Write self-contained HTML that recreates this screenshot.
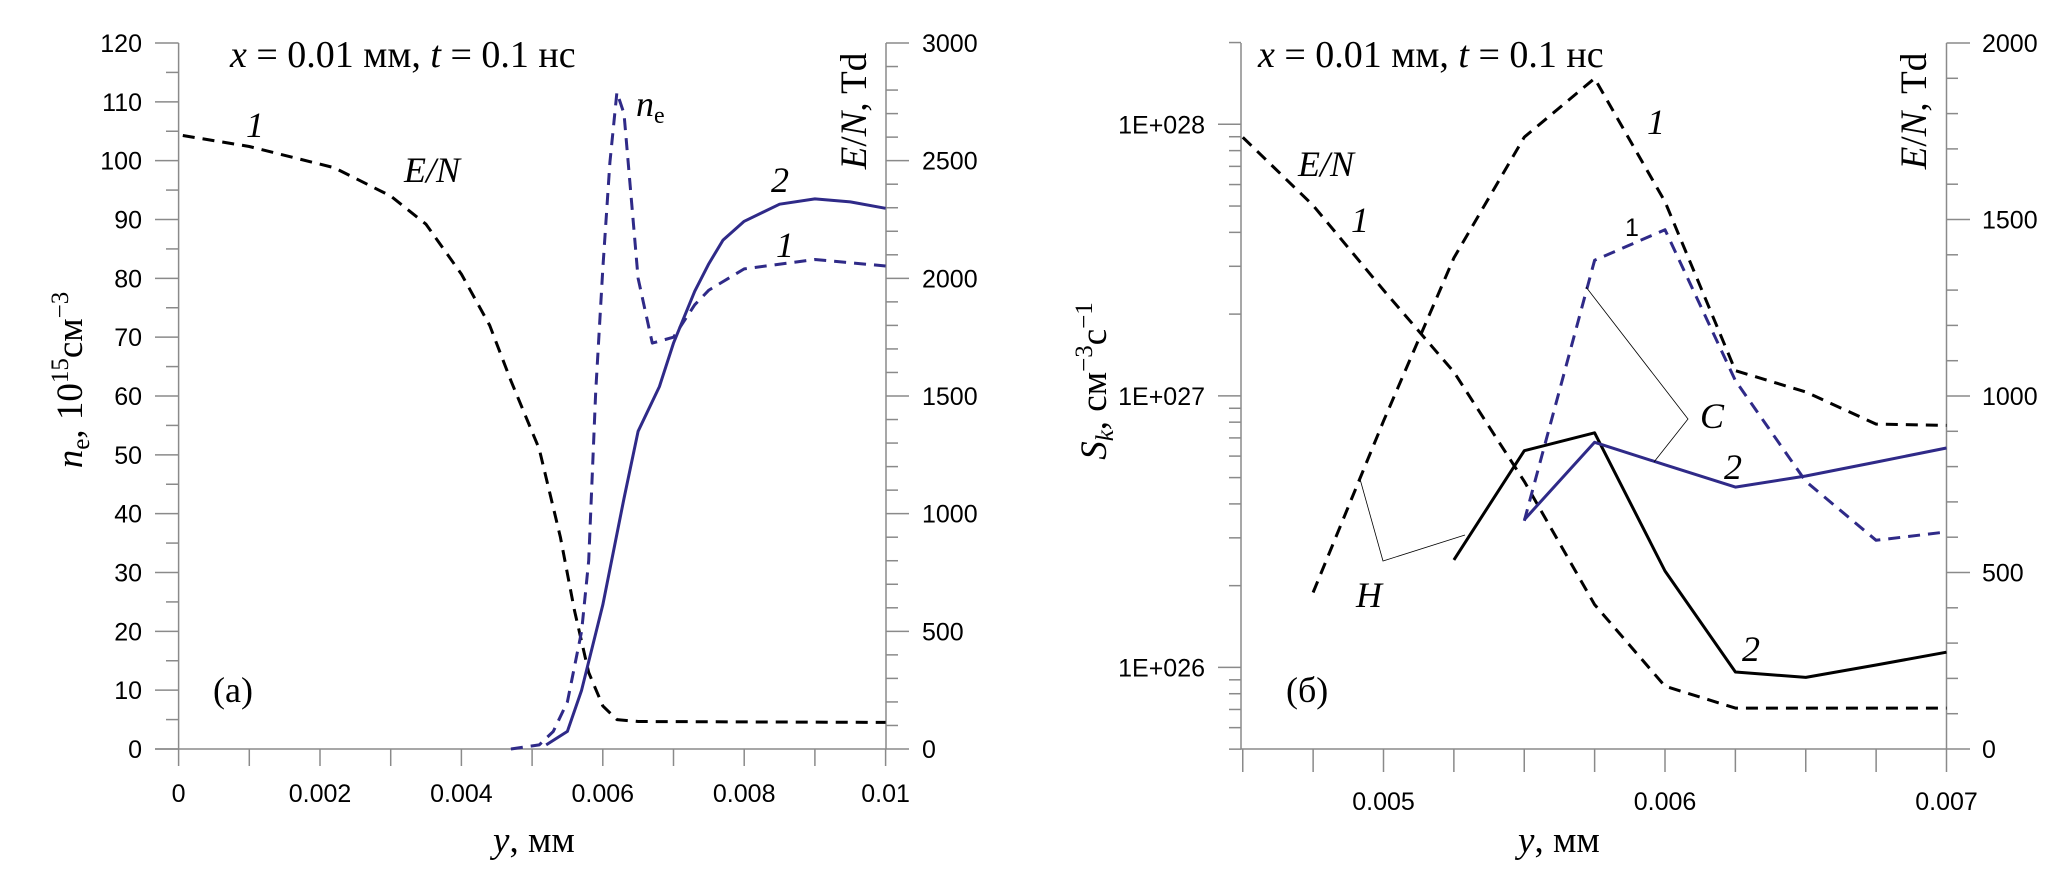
<!DOCTYPE html>
<html><head><meta charset="utf-8">
<style>
html,body{margin:0;padding:0;background:#fff;}
svg{display:block;}
.tick{font-family:"Liberation Sans",sans-serif;font-size:25px;fill:#000;}
.ser{font-family:"Liberation Serif","DejaVu Serif",serif;fill:#000;}
</style></head>
<body>
<svg id="chart" width="2067" height="878" viewBox="0 0 2067 878" xmlns="http://www.w3.org/2000/svg">
<g id="gA"></g>
<g id="gB"></g>
<!-- panel a text -->
<text class="ser" x="230" y="67" font-size="38"><tspan font-style="italic">x</tspan> = 0.01 мм, <tspan font-style="italic">t</tspan> = 0.1 нс</text>
<text class="ser" x="493" y="852" font-size="37"><tspan font-style="italic">y</tspan>, мм</text>
<text class="ser" transform="translate(82,380) rotate(-90)" text-anchor="middle" font-size="37"><tspan font-style="italic">n</tspan><tspan font-size="25" dy="7">e</tspan><tspan dy="-7">, 10</tspan><tspan font-size="25" dy="-14">15</tspan><tspan dy="14">см</tspan><tspan font-size="25" dy="-14">−3</tspan></text>
<text class="ser" transform="translate(866,111) rotate(-90)" text-anchor="middle" font-size="37"><tspan font-style="italic">E</tspan>/<tspan font-style="italic">N</tspan>, Td</text>
<text class="ser" x="213" y="702" font-size="36">(a)</text>
<text class="ser" x="246" y="137" font-size="36" font-style="italic">1</text>
<text class="ser" x="404" y="182" font-size="36" font-style="italic">E/N</text>
<text class="ser" x="636" y="116" font-size="36"><tspan font-style="italic">n</tspan><tspan font-size="24" dy="7">e</tspan></text>
<text class="ser" x="771" y="192" font-size="36" font-style="italic">2</text>
<text class="ser" x="776" y="257" font-size="36" font-style="italic">1</text>
<!-- panel b text -->
<text class="ser" x="1258" y="67" font-size="38"><tspan font-style="italic">x</tspan> = 0.01 мм, <tspan font-style="italic">t</tspan> = 0.1 нс</text>
<text class="ser" x="1518" y="852" font-size="37"><tspan font-style="italic">y</tspan>, мм</text>
<text class="ser" transform="translate(1106,381) rotate(-90)" text-anchor="middle" font-size="37"><tspan font-style="italic">S</tspan><tspan font-size="25" dy="7" font-style="italic">k</tspan><tspan dy="-7">, см</tspan><tspan font-size="25" dy="-14">−3</tspan><tspan dy="14">с</tspan><tspan font-size="25" dy="-14">−1</tspan></text>
<text class="ser" transform="translate(1926,111) rotate(-90)" text-anchor="middle" font-size="37"><tspan font-style="italic">E</tspan>/<tspan font-style="italic">N</tspan>, Td</text>
<text class="ser" x="1286" y="702" font-size="36">(б)</text>
<text class="ser" x="1298" y="176" font-size="36" font-style="italic">E/N</text>
<text class="ser" x="1351" y="232" font-size="36" font-style="italic">1</text>
<text class="ser" x="1647" y="134" font-size="36" font-style="italic">1</text>
<text class="tick" x="1625" y="236" font-size="26">1</text>
<text class="ser" x="1356" y="607" font-size="36" font-style="italic">H</text>
<text class="ser" x="1700" y="428" font-size="36" font-style="italic">C</text>
<text class="ser" x="1724" y="479" font-size="36" font-style="italic">2</text>
<text class="ser" x="1742" y="661" font-size="36" font-style="italic">2</text>
<polyline points="1360,479 1383,561 1465,535" fill="none" stroke="#000" stroke-width="0.8"/>
<polyline points="1586,287 1688,419 1654,462" fill="none" stroke="#000" stroke-width="0.8"/>
</svg>
<script>
// Panel a data
const aEnX = [0.00006,0.001,0.0022,0.003,0.0035,0.004,0.0044,0.0047,0.0051,0.0054,0.0056,0.0058,0.006,0.0062,0.0065,0.008,0.01];
const aEnTd = [2607,2560,2470,2350,2230,2018,1800,1565,1275,900,588,325,183,125,117,115,113];
const aNe1X = [0.0047,0.0051,0.0053,0.0055,0.0057,0.0058,0.0059,0.006,0.0061,0.0062,0.0063,0.0065,0.0067,0.007,0.0073,0.0075,0.008,0.009,0.01];
const aNe1V = [0,0.7,3,8,20,32,60.7,81.6,99.7,111.6,108,80,69,70,75.5,78,81.6,83.2,82.1];
const aNe2X = [0.0052,0.0055,0.0057,0.006,0.0063,0.0065,0.0068,0.007,0.0073,0.0075,0.0077,0.008,0.0085,0.009,0.0095,0.01];
const aNe2V = [0.7,3,10,24.5,42.6,54,61.6,69,77.8,82.5,86.5,89.7,92.6,93.5,93,91.9];
const aLeftTicks = [0,10,20,30,40,50,60,70,80,90,100,110,120];
const aRightTicks = [0,500,1000,1500,2000,2500,3000];
const aXTicks = [0,0.002,0.004,0.006,0.008,0.01];
const aXLabels = ["0","0.002","0.004","0.006","0.008","0.01"];
// Panel b data (log10 of S_k)
const bEnX = [0.0045,0.00475,0.005,0.00525,0.0055,0.00575,0.006,0.00625,0.0065,0.00675,0.007];
const bEnTd = [1733,1540,1300,1068,758,409,178,116,116,116,116];
const bC1X = [0.00475,0.005,0.00525,0.0055,0.00575,0.006,0.00625,0.0065,0.00675,0.007];
const bC1Log = [26.276,26.907,27.508,27.953,28.169,27.715,27.093,27.014,26.896,26.891];
const bH1X = [0.0055,0.00575,0.006,0.00625,0.0065,0.00675,0.007];
const bH1Log = [26.540,27.499,27.612,27.056,26.685,26.468,26.499];
const bC2X = [0.00525,0.0055,0.00575,0.006,0.00625,0.0065,0.00675,0.007];
const bC2Log = [26.396,26.798,26.864,26.355,25.983,25.963,26.009,26.056];
const bH2X = [0.0055,0.00575,0.006,0.00625,0.0065,0.00675,0.007];
const bH2Log = [26.544,26.829,26.746,26.664,26.705,26.756,26.808];
const bLogTicks = [26,27,28];
const bLogLabels = ["1E+026","1E+027","1E+028"];
const bRightTicks = [0,500,1000,1500,2000];
const bXTicks = [0.005,0.006,0.007];
const bXLabels = ["0.005","0.006","0.007"];

const NS = "http://www.w3.org/2000/svg";
function mk(parent, tag, attrs) {
  const e = document.createElementNS(NS, tag);
  for (const k in attrs) e.setAttribute(k, attrs[k]);
  parent.appendChild(e);
  return e;
}
function line(parent, x1, y1, x2, y2, name, w, c) {
  const e = mk(parent, "line", {x1: x1, y1: y1, x2: x2, y2: y2, stroke: c || "#8a8a8a", "stroke-width": w || 1.5});
  
  
  return e;
}
function label(parent, x, y, txt, anchor, name) {
  const t = mk(parent, "text", {x: x, y: y, "text-anchor": anchor, class: "tick"});
  t.textContent = txt;
  
  
  return t;
}
function series(parent, xs, ys, fx, fy, color, dashed, name, w) {
  const pts = xs.map((x, i) => fx(x).toFixed(1) + "," + fy(ys[i]).toFixed(1)).join(" ");
  const p = mk(parent, "polyline", {points: pts, fill: "none", stroke: color, "stroke-width": w || 3, "stroke-linejoin": "round"});
  if (dashed) p.setAttribute("stroke-dasharray", "12 8");
  
  
}
const BLUE = "#2f2a88";

// ----- Panel a -----
const gA = document.getElementById("gA");
const aX = x => 178.6 + x / 0.01 * 707;
const aYL = v => 749 - v * 706 / 120;
const aYR = v => 749 - v * 706 / 3000;
line(gA, 178.6, 43, 178.6, 749, "panel-a-left-axis");
line(gA, 886, 43, 886, 749, "panel-a-right-axis");
line(gA, 155, 749, 886, 749, "panel-a-x-axis");
for (let v = 0; v <= 120; v += 5) {
  const major = v % 10 === 0;
  line(gA, major ? 155 : 166, aYL(v), 178.6, aYL(v), "panel-a-left-tick");
}
aLeftTicks.forEach(v => label(gA, 142, aYL(v) + 9, String(v), "end", "panel-a-left-tick-label"));
for (let v = 0; v <= 3000; v += 100) {
  const major = v % 500 === 0;
  line(gA, 886, aYR(v), major ? 909 : 898, aYR(v), "panel-a-right-tick");
}
aRightTicks.forEach(v => label(gA, 922, aYR(v) + 9, String(v), "start", "panel-a-right-tick-label"));
for (let i = 0; i <= 10; i++) {
  const x = i * 0.001;
  line(gA, aX(x), 749, aX(x), 766, "panel-a-x-tick");
}
aXTicks.forEach((x, i) => label(gA, aX(x), 802, aXLabels[i], "middle", "panel-a-x-tick-label"));
series(gA, aEnX, aEnTd, aX, aYR, "#000", true, "en-curve-a");
series(gA, aNe1X, aNe1V, aX, aYL, BLUE, true, "ne-curve-1");
series(gA, aNe2X, aNe2V, aX, aYL, BLUE, false, "ne-curve-2");

// ----- Panel b -----
const gB = document.getElementById("gB");
const bX = x => 1383.5 + (x - 0.005) * 281500;
const bYL = lv => 667.4 - (lv - 26) * 271.55;
const bYR = v => 749 - v * 706 / 2000;
line(gB, 1241, 43, 1241, 749, "panel-b-left-axis");
line(gB, 1946.5, 43, 1946.5, 749, "panel-b-right-axis");
line(gB, 1241, 749, 1946.5, 749, "panel-b-x-axis");
for (let d = 25; d <= 28; d++) {
  for (let m = 1; m <= 9; m++) {
    const lv = d + Math.log10(m);
    if (lv < 25.69 || lv > 28.31) continue;
    line(gB, m === 1 ? 1218 : 1229, bYL(lv), 1241, bYL(lv), "panel-b-left-tick");
  }
}
bLogTicks.forEach((lv, i) => label(gB, 1205, bYL(lv) + 9, bLogLabels[i], "end", "panel-b-left-tick-label"));
for (let v = 0; v <= 2000; v += 100) {
  const major = v % 500 === 0;
  line(gB, 1946.5, bYR(v), major ? 1970 : 1958, bYR(v), "panel-b-right-tick");
}
bRightTicks.forEach(v => label(gB, 1982, bYR(v) + 9, String(v), "start", "panel-b-right-tick-label"));
for (let i = 0; i <= 10; i++) {
  const x = 0.0045 + i * 0.00025;
  line(gB, bX(x), 749, bX(x), 772, "panel-b-x-tick");
}
bXTicks.forEach((x, i) => label(gB, bX(x), 810, bXLabels[i], "middle", "panel-b-x-tick-label"));
series(gB, bEnX, bEnTd, bX, bYR, "#000", true, "en-curve-b");
series(gB, bC1X, bC1Log, bX, bYL, "#000", true, "C-curve-1");
series(gB, bH1X, bH1Log, bX, bYL, BLUE, true, "H-curve-1");
series(gB, bC2X, bC2Log, bX, bYL, "#000", false, "C-curve-2");
series(gB, bH2X, bH2Log, bX, bYL, BLUE, false, "H-curve-2");
</script>
</body></html>
